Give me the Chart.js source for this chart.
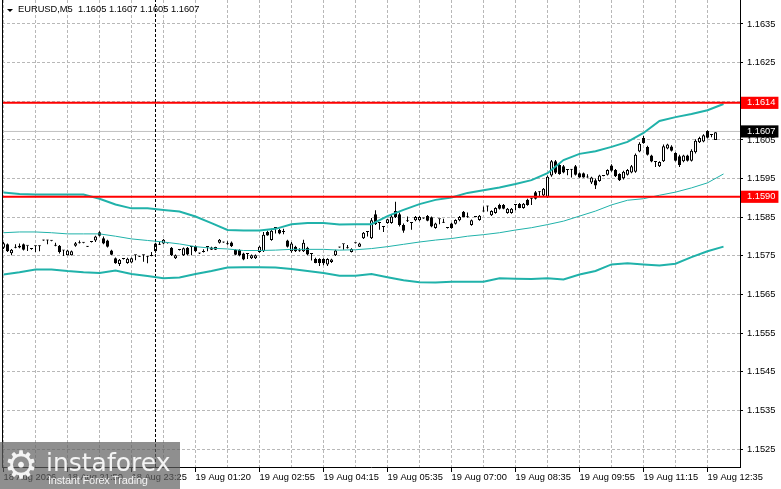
<!DOCTYPE html>
<html>
<head>
<meta charset="utf-8">
<title>EURUSD,M5</title>
<script src="https://cdn.jsdelivr.net/npm/chart.js@4.4.0/dist/chart.umd.min.js"></script>
<style>
  html, body { margin: 0; padding: 0; background: #fff; }
  #wrap { position: relative; width: 781px; height: 489px; overflow: hidden; background: #fff; }
  #chart { position: absolute; left: 0; top: 0; }
  #leftEdge { position: absolute; left: 2px; top: 0; width: 1px; height: 468px; background: #000; }
  #arrow { position: absolute; left: 7px; top: 9px; width: 0; height: 0;
           border-left: 3px solid transparent; border-right: 3px solid transparent; border-top: 3px solid #000; }
  #caption { position: absolute; left: 18px; top: 4px; font: 9.3px 'Liberation Sans', sans-serif;
             line-height: 11px; color: #000; white-space: pre; }
  #brand { position: absolute; left: 0; top: 442px; width: 180px; height: 47px; background: rgba(95, 95, 95, 0.7); color: #f4f4f4; }
  #brand .gear { position: absolute; left: 4px; top: 3px; font: 38px 'DejaVu Sans', sans-serif; line-height: 40px; }
  #brand .name { position: absolute; left: 46px; top: 8px; font: 25px 'DejaVu Sans', sans-serif; line-height: 25px; letter-spacing: 0px; }
  #brand .slogan { position: absolute; left: 48px; top: 33px; font: 11px 'Liberation Sans', sans-serif; line-height: 11px; letter-spacing: -0.2px; }
</style>
</head>
<body>
<div id="wrap">
  <canvas id="chart" width="781" height="489"></canvas>
  <div id="leftEdge"></div>
  <div id="arrow"></div>
  <div id="caption">EURUSD,M5  1.1605 1.1607 1.1605 1.1607</div>
  <div id="brand">
    <div class="gear">⚙</div>
    <div class="name">instaforex</div>
    <div class="slogan">Instant Forex Trading</div>
  </div>
</div>
<script>
// M5 candles, one per index
const opens = [
  1.15771,1.15780,1.15757,1.15771,1.15772,1.15780,1.15776,1.15768,1.15775,1.15775,
  1.15790,1.15790,1.15789,1.15776,1.15776,1.15764,1.15752,1.15752,1.15776,1.15783,
  1.15784,1.15774,1.15786,1.15790,1.15811,1.15796,1.15790,1.15764,1.15744,1.15729,
  1.15742,1.15732,1.15733,1.15752,1.15748,1.15752,1.15748,1.15750,1.15762,1.15779,
  1.15782,1.15783,1.15771,1.15744,1.15765,1.15752,1.15771,1.15773,1.15775,1.15756,
  1.15760,1.15773,1.15766,1.15766,1.15784,1.15785,1.15780,1.15785,1.15765,1.15765,
  1.15756,1.15755,1.15744,1.15744,1.15760,1.15762,1.15812,1.15791,1.15822,1.15817,
  1.15812,1.15790,1.15762,1.15774,1.15762,1.15762,1.15771,1.15755,1.15742,1.15742,
  1.15742,1.15728,1.15734,1.15752,1.15772,1.15780,1.15770,1.15760,1.15783,1.15774,
  1.15796,1.15812,1.15796,1.15858,1.15835,1.15825,1.15835,1.15835,1.15866,1.15858,
  1.15830,1.15840,1.15835,1.15842,1.15842,1.15847,1.15853,1.15850,1.15822,1.15845,
  1.15836,1.15822,1.15834,1.15833,1.15842,1.15864,1.15850,1.15830,1.15851,1.15843,
  1.15865,1.15878,1.15855,1.15861,1.15882,1.15882,1.15861,1.15861,1.15882,1.15884,
  1.15874,1.15895,1.15898,1.15915,1.15915,1.15906,1.15903,1.15958,1.15995,1.15985,
  1.15982,1.15972,1.15973,1.15982,1.15964,1.15964,1.15953,1.15940,1.15946,1.15944,
  1.15957,1.15960,1.15984,1.15972,1.15962,1.15951,1.15960,1.15966,1.15968,1.16020,
  1.16055,1.16032,1.16010,1.15993,1.15982,1.15995,1.16028,1.16033,1.16016,1.16008,
  1.15995,1.16010,1.15996,1.16018,1.16044,1.16046,1.16073,1.16063,1.16050
];
const highs = [
  1.15786,1.15782,1.15768,1.15780,1.15782,1.15782,1.15777,1.15770,1.15776,1.15777,
  1.15791,1.15792,1.15790,1.15784,1.15778,1.15765,1.15766,1.15764,1.15786,1.15790,
  1.15785,1.15775,1.15787,1.15802,1.15814,1.15800,1.15792,1.15766,1.15746,1.15742,
  1.15743,1.15745,1.15746,1.15753,1.15749,1.15753,1.15750,1.15760,1.15784,1.15786,
  1.15794,1.15784,1.15773,1.15754,1.15766,1.15772,1.15773,1.15775,1.15777,1.15758,
  1.15767,1.15774,1.15774,1.15774,1.15794,1.15786,1.15788,1.15787,1.15767,1.15767,
  1.15758,1.15756,1.15754,1.15754,1.15776,1.15812,1.15815,1.15820,1.15823,1.15820,
  1.15820,1.15792,1.15786,1.15776,1.15770,1.15792,1.15774,1.15756,1.15745,1.15744,
  1.15744,1.15744,1.15743,1.15766,1.15773,1.15781,1.15778,1.15770,1.15784,1.15784,
  1.15812,1.15813,1.15848,1.15868,1.15836,1.15826,1.15846,1.15856,1.15890,1.15862,
  1.15834,1.15852,1.15836,1.15853,1.15853,1.15848,1.15856,1.15852,1.15836,1.15846,
  1.15846,1.15823,1.15836,1.15845,1.15853,1.15866,1.15862,1.15844,1.15852,1.15856,
  1.15878,1.15880,1.15868,1.15876,1.15885,1.15884,1.15874,1.15874,1.15883,1.15887,
  1.15887,1.15898,1.15900,1.15918,1.15917,1.15926,1.15958,1.15998,1.15998,1.15990,
  1.15985,1.15973,1.15975,1.15985,1.15966,1.15966,1.15961,1.15955,1.15950,1.15960,
  1.15958,1.15974,1.15987,1.15975,1.15964,1.15970,1.15975,1.15985,1.16015,1.16044,
  1.16060,1.16035,1.16012,1.15994,1.15995,1.16038,1.16040,1.16036,1.16018,1.16012,
  1.16012,1.16012,1.16026,1.16052,1.16058,1.16065,1.16075,1.16064,1.16070
];
const lows = [
  1.15768,1.15760,1.15752,1.15770,1.15770,1.15764,1.15763,1.15766,1.15760,1.15762,
  1.15789,1.15780,1.15788,1.15775,1.15756,1.15750,1.15751,1.15751,1.15774,1.15782,
  1.15783,1.15773,1.15785,1.15786,1.15800,1.15780,1.15772,1.15752,1.15730,1.15724,
  1.15741,1.15730,1.15731,1.15739,1.15747,1.15735,1.15731,1.15749,1.15758,1.15778,
  1.15780,1.15782,1.15750,1.15742,1.15764,1.15750,1.15752,1.15752,1.15760,1.15755,
  1.15759,1.15762,1.15765,1.15765,1.15782,1.15784,1.15779,1.15773,1.15752,1.15749,
  1.15739,1.15742,1.15742,1.15742,1.15758,1.15760,1.15802,1.15789,1.15808,1.15806,
  1.15806,1.15772,1.15758,1.15760,1.15761,1.15760,1.15752,1.15738,1.15731,1.15724,
  1.15726,1.15724,1.15732,1.15750,1.15771,1.15766,1.15769,1.15759,1.15782,1.15773,
  1.15794,1.15800,1.15794,1.15830,1.15818,1.15812,1.15833,1.15833,1.15848,1.15826,
  1.15810,1.15838,1.15818,1.15840,1.15840,1.15846,1.15840,1.15824,1.15820,1.15832,
  1.15835,1.15821,1.15820,1.15831,1.15840,1.15850,1.15849,1.15828,1.15850,1.15841,
  1.15864,1.15865,1.15853,1.15859,1.15870,1.15871,1.15859,1.15859,1.15868,1.15873,
  1.15872,1.15880,1.15882,1.15896,1.15903,1.15904,1.15900,1.15955,1.15962,1.15960,
  1.15964,1.15959,1.15953,1.15958,1.15952,1.15952,1.15952,1.15936,1.15923,1.15942,
  1.15956,1.15958,1.15968,1.15954,1.15944,1.15948,1.15958,1.15964,1.15965,1.16018,
  1.16040,1.16010,1.15992,1.15980,1.15980,1.15993,1.16026,1.16020,1.15994,1.15980,
  1.15992,1.15994,1.15994,1.16015,1.16042,1.16044,1.16054,1.16057,1.16050
];
const closes = [
  1.15783,1.15762,1.15766,1.15771,1.15776,1.15766,1.15776,1.15768,1.15775,1.15775,
  1.15790,1.15790,1.15789,1.15776,1.15760,1.15764,1.15764,1.15762,1.15783,1.15784,
  1.15784,1.15774,1.15786,1.15800,1.15802,1.15782,1.15774,1.15753,1.15731,1.15740,
  1.15742,1.15743,1.15744,1.15752,1.15748,1.15752,1.15748,1.15750,1.15782,1.15779,
  1.15792,1.15783,1.15752,1.15752,1.15765,1.15770,1.15754,1.15773,1.15762,1.15756,
  1.15760,1.15773,1.15772,1.15773,1.15792,1.15785,1.15780,1.15775,1.15753,1.15751,
  1.15741,1.15755,1.15752,1.15752,1.15774,1.15805,1.15803,1.15815,1.15822,1.15808,
  1.15814,1.15774,1.15782,1.15762,1.15762,1.15784,1.15754,1.15755,1.15732,1.15732,
  1.15731,1.15742,1.15741,1.15764,1.15772,1.15780,1.15770,1.15768,1.15783,1.15782,
  1.15810,1.15812,1.15842,1.15832,1.15835,1.15825,1.15845,1.15852,1.15851,1.15830,
  1.15815,1.15841,1.15835,1.15851,1.15851,1.15847,1.15841,1.15826,1.15834,1.15845,
  1.15836,1.15822,1.15822,1.15843,1.15851,1.15851,1.15850,1.15842,1.15851,1.15854,
  1.15865,1.15878,1.15866,1.15874,1.15872,1.15872,1.15872,1.15872,1.15882,1.15874,
  1.15885,1.15882,1.15898,1.15898,1.15915,1.15924,1.15955,1.15995,1.15965,1.15962,
  1.15966,1.15972,1.15973,1.15960,1.15953,1.15953,1.15953,1.15953,1.15932,1.15958,
  1.15957,1.15972,1.15970,1.15956,1.15946,1.15968,1.15972,1.15982,1.16012,1.16040,
  1.16042,1.16012,1.15994,1.15993,1.15993,1.16034,1.16038,1.16022,1.15996,1.15985,
  1.16010,1.15996,1.16022,1.16048,1.16055,1.16062,1.16056,1.16063,1.16070
];

// bollinger bands, read every 4 bars
const bandIdx = [0,4,8,12,16,20,24,28,32,36,40,44,48,52,56,60,64,68,72,76,80,84,88,92,
  96,100,104,108,112,116,120,124,128,132,136,140,144,148,152,156,160,164,168,172,176,180];
const bandUpper = [
  1.15914,1.15910,1.15909,1.15909,1.15909,1.15909,1.15898,1.15883,1.15873,1.15873,
  1.15869,1.15865,1.15852,1.15835,1.15817,1.15816,1.15816,1.15820,1.15832,1.15835,
  1.15835,1.15831,1.15832,1.15832,1.15853,1.15869,1.15884,1.15895,1.15901,1.15913,
  1.15920,1.15927,1.15936,1.15946,1.15964,1.15998,1.16014,1.16021,1.16032,1.16045,
  1.16068,1.16099,1.16109,1.16117,1.16127,1.16143
];
const bandMiddle = [
  1.15810,1.15812,1.15812,1.15810,1.15807,1.15807,1.15807,1.15801,1.15794,1.15790,
  1.15786,1.15781,1.15774,1.15770,1.15768,1.15764,1.15764,1.15765,1.15767,1.15767,
  1.15767,1.15765,1.15766,1.15769,1.15774,1.15780,1.15786,1.15791,1.15795,1.15801,
  1.15805,1.15810,1.15817,1.15823,1.15831,1.15840,1.15853,1.15866,1.15882,1.15894,
  1.15898,1.15907,1.15915,1.15926,1.15939,1.15962
];
const bandLower = [
  1.15702,1.15708,1.15715,1.15715,1.15711,1.15708,1.15706,1.15712,1.15703,1.15698,
  1.15692,1.15694,1.15703,1.15711,1.15720,1.15721,1.15721,1.15720,1.15716,1.15711,
  1.15706,1.15699,1.15699,1.15703,1.15695,1.15687,1.15682,1.15681,1.15683,1.15683,
  1.15683,1.15692,1.15691,1.15690,1.15692,1.15689,1.15702,1.15711,1.15728,1.15731,
  1.15728,1.15725,1.15730,1.15747,1.15762,1.15774
];

// axes
const xTickIdx = [0,8,16,24,32,40,48,56,64,72,80,88,96,104,112,120,128,136,144,152,160,168,176];
const labelIdx = [0,16,32,48,64,80,96,112,128,144,160,176];
const labelText = ['18 Aug 2026','18 Aug 21:50','18 Aug 23:25','19 Aug 01:20','19 Aug 02:55','19 Aug 04:15',
  '19 Aug 05:35','19 Aug 07:00','19 Aug 08:35','19 Aug 09:55','19 Aug 11:15','19 Aug 12:35'];
const yTicks = [1.1525,1.1535,1.1545,1.1555,1.1565,1.1575,1.1585,1.1595,1.1605,1.1615,1.1625,1.1635];

// horizontal levels and last price
const levels = [1.16146, 1.15903];
const levelText = ['1.1614', '1.1590'];
const lastPrice = 1.16072;
const lastPriceText = '1.1607';
const markerIdx = 38;

const yMin = 1.15204, yMax = 1.16412;
const xMin = -0.375, xMax = 184.125;

const tagPrices = [levels[0], levels[1], lastPrice];
const tagText = [levelText[0], levelText[1], lastPriceText];
const tagColors = ['#ff0000', '#ff0000', '#000000'];
const tagIndex = v => tagPrices.findIndex(p => Math.abs(p - v) < 1e-9);
const isTag = ctx => !!(ctx.tick && tagIndex(ctx.tick.value) >= 0);

const axisFont = { family: 'Liberation Sans', size: 9.3 };
const teal = '#20b2aa';
const gridGray = '#b8b8b8';

const hline = (p, color, width, order) => ({
  type: 'line',
  data: [{ x: xMin, y: p }, { x: xMax, y: p }],
  borderColor: color, borderWidth: width, pointRadius: 0, order: order
});
const band = (vals, width) => ({
  type: 'line',
  data: bandIdx.map((x, k) => ({ x: x, y: vals[k] })),
  borderColor: teal, borderWidth: width, pointRadius: 0, tension: 0, order: 1
});

new Chart(document.getElementById('chart'), {
  type: 'bar',
  data: {
    datasets: [
      {
        type: 'bar',
        data: opens.map((o, i) => ({ x: i, y: [o, closes[i]] })),
        backgroundColor: opens.map((o, i) => closes[i] > o ? '#ffffff' : '#000000'),
        borderColor: '#000000',
        borderWidth: 1,
        borderSkipped: false,
        barThickness: 3,
        minBarLength: 1,
        grouped: false,
        inflateAmount: 0,
        order: 2
      },
      {
        type: 'bar',
        data: lows.map((l, i) => ({ x: i, y: [l, highs[i]] })),
        backgroundColor: '#000000',
        borderWidth: 0,
        barThickness: 1,
        minBarLength: 1,
        grouped: false,
        inflateAmount: 0,
        order: 3
      },
      band(bandUpper, 2),
      band(bandMiddle, 1),
      band(bandLower, 2),
      hline(levels[0], '#ff0000', 2, 0),
      hline(levels[1], '#ff0000', 2, 0),
      hline(lastPrice, '#c0c0c0', 1, 4),
      {
        type: 'line',
        data: [{ x: markerIdx, y: yMin }, { x: markerIdx, y: yMax }],
        borderColor: '#000000', borderWidth: 1, borderDash: [3, 2], pointRadius: 0, order: 1
      }
    ]
  },
  options: {
    responsive: false,
    animation: false,
    events: [],
    layout: { padding: { left: 2, top: 0, right: 0, bottom: 0 } },
    plugins: { legend: { display: false }, tooltip: { enabled: false } },
    scales: {
      x: {
        type: 'linear', min: xMin, max: xMax, offset: false,
        grid: {
          offset: false, color: gridGray, tickLength: 5,
          tickColor: ctx => (ctx.tick && labelIdx.includes(ctx.tick.value)) ? '#000000' : 'rgba(0,0,0,0)'
        },
        border: { color: '#000000', dash: [3, 2] },
        ticks: {
          autoSkip: false, maxRotation: 0, minRotation: 0, align: 'start', padding: 0,
          color: '#000000', font: axisFont,
          callback: v => { const k = labelIdx.indexOf(v); return k >= 0 ? labelText[k] : ''; }
        },
        afterBuildTicks: s => { s.ticks = xTickIdx.map(v => ({ value: v })); },
        afterFit: s => { s.height = 22; s.paddingLeft = 0; s.paddingRight = 0; }
      },
      y: {
        type: 'linear', position: 'right', min: yMin, max: yMax,
        grid: {
          tickLength: 3,
          color: ctx => isTag(ctx) ? 'rgba(0,0,0,0)' : gridGray,
          tickColor: ctx => isTag(ctx) ? 'rgba(0,0,0,0)' : '#000000'
        },
        border: { color: '#000000', dash: [3, 2] },
        ticks: {
          autoSkip: false, padding: 4, font: axisFont,
          color: ctx => isTag(ctx) ? '#ffffff' : '#000000',
          showLabelBackdrop: ctx => isTag(ctx),
          backdropColor: ctx => isTag(ctx) ? tagColors[tagIndex(ctx.tick.value)] : 'rgba(0,0,0,0)',
          backdropPadding: { left: 6, right: 3, top: 0.5, bottom: 0.5 },
          callback: v => { const k = tagIndex(v); return k >= 0 ? tagText[k] : v.toFixed(4); }
        },
        afterBuildTicks: s => {
          s.ticks = yTicks.map(v => ({ value: v })).concat(tagPrices.map(v => ({ value: v })));
        },
        afterFit: s => { s.width = 41; s.paddingTop = 0; s.paddingBottom = 0; }
      }
    }
  }
});
</script>
</body>
</html>
